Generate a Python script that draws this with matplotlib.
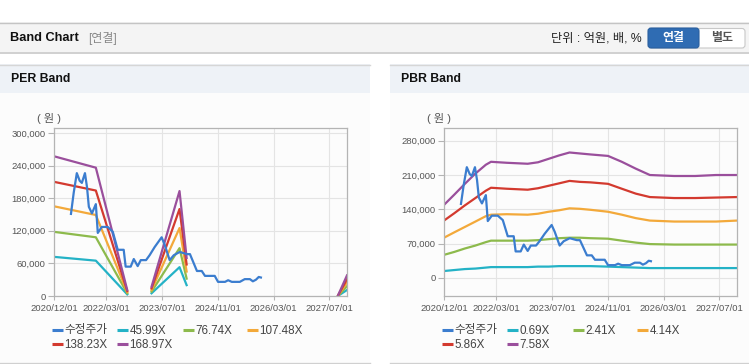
import matplotlib
matplotlib.use("Agg")
import matplotlib.pyplot as plt
import matplotlib.dates as mdates
from matplotlib.patches import Rectangle, FancyBboxPatch
from matplotlib.lines import Line2D
from matplotlib.ticker import FuncFormatter
import pandas as pd
import numpy as np

plt.rcParams['font.family'] = ['Liberation Sans', 'Noto Sans CJK KR']
plt.rcParams['axes.unicode_minus'] = False

W, H = 749, 364

# ---- data ----
price_dates = ["2021-04-28", "2021-05-22", "2021-06-18", "2021-07-13", "2021-08-01", "2021-08-28",
               "2021-09-15", "2021-10-01", "2021-10-28", "2021-12-01", "2021-12-18", "2022-01-22",
               "2022-03-15", "2022-04-28", "2022-06-10", "2022-08-01", "2022-08-18", "2022-10-01",
               "2022-10-28", "2022-12-01", "2022-12-28", "2023-02-12", "2023-03-15", "2023-04-28",
               "2023-06-28", "2023-07-25", "2023-09-06", "2023-10-12", "2023-12-03", "2024-02-03",
               "2024-03-01", "2024-05-01", "2024-06-12", "2024-07-10", "2024-10-03", "2024-11-01",
               "2025-01-01", "2025-01-28", "2025-03-01", "2025-05-10", "2025-06-22", "2025-08-06",
               "2025-09-01", "2025-09-28", "2025-10-22", "2025-11-10"]
price = [151000, 190000, 226000, 212000, 208000, 226000,
         200000, 164000, 152000, 169000, 116000, 127000,
         127000, 118000, 85000, 85000, 54000, 54000,
         68000, 55000, 66000, 66000, 75000, 90000,
         108000, 94000, 66000, 75000, 81000, 77000,
         77000, 46000, 46000, 37000, 37000, 26000,
         26000, 29000, 26000, 26000, 31000, 31000,
         27000, 30000, 35000, 34000]

per_dates = ["2020-12-01", "2021-12-01", "2022-09-01", None, "2023-04-01", "2023-12-01",
             "2024-02-01", None, "2027-09-15", "2027-12-01"]
per_labels = ["45.99X", "76.74X", "107.48X", "138.23X", "168.97X"]
per_4599 = [72000, 65000, 3000, None, 5000, 53000, 20000, None, 500, 11000]
per_7674 = [118000, 108000, 5000, None, 8000, 88000, 32000, None, 800, 18000]
per_10748 = [165000, 149000, 7000, None, 11000, 125000, 45000, None, 1100, 25000]
per_13823 = [210000, 194000, 9000, None, 14000, 160000, 58000, None, 1400, 31000]
per_16897 = [257000, 236000, 11000, None, 17000, 193000, 70000, None, 1700, 38000]

pbr_dates = ["2020-12-01", "2021-03-01", "2021-06-01", "2021-09-01", "2021-12-01", "2022-01-15",
             "2022-06-01", "2022-12-01", "2023-03-01", "2023-06-01", "2023-09-01", "2023-12-01",
             "2024-03-01", "2024-06-01", "2024-11-01", "2025-03-01", "2025-07-01", "2025-11-01",
             "2026-06-01", "2026-12-01", "2027-06-01", "2027-12-01"]
pbr_labels = ["0.69X", "2.41X", "4.14X", "5.86X", "7.58X"]
pbr_069 = [14000, 16000, 18000, 19000, 21000, 22000, 22000, 22000, 23000, 23000, 24000, 24000,
           24000, 24000, 23000, 22000, 21000, 20000, 20000, 20000, 20000, 20000]
pbr_241 = [47000, 53000, 60000, 66000, 73000, 76000, 76000, 76000, 77000, 79000, 81000, 82000,
           82000, 81000, 80000, 76000, 72000, 69000, 68000, 68000, 68000, 68000]
pbr_414 = [82000, 93000, 104000, 115000, 126000, 129000, 130000, 129000, 131000, 135000, 138000, 142000,
           141000, 139000, 135000, 129000, 122000, 117000, 115000, 115000, 115000, 117000]
pbr_586 = [117000, 132000, 148000, 163000, 178000, 184000, 182000, 180000, 183000, 188000, 193000, 198000,
           196000, 195000, 192000, 182000, 172000, 165000, 163000, 163000, 164000, 165000]
pbr_758 = [149000, 170000, 192000, 213000, 231000, 237000, 235000, 233000, 236000, 243000, 250000, 256000,
           254000, 252000, 249000, 237000, 223000, 210000, 208000, 208000, 210000, 210000]

x_ticks = ["2020-12-01", "2022-03-01", "2023-07-01", "2024-11-01", "2026-03-01", "2027-07-01"]
per_yticks = [0, 60000, 120000, 180000, 240000, 300000]
pbr_yticks = [0, 70000, 140000, 210000, 280000]

band_colors = ["#24b2c6", "#8dba4c", "#f3a93a", "#d33a2f", "#9a4f9c"]
price_color = "#3b7dcf"

fig = plt.figure(figsize=(W / 100, H / 100), dpi=100)
fig.patch.set_facecolor("white")

# background layer in pixel coords
bg = fig.add_axes([0, 0, 1, 1])
bg.set_xlim(0, W)
bg.set_ylim(H, 0)
bg.axis("off")

# header bar
bg.add_patch(Rectangle((0, 22), W, 30, facecolor="#f4f4f4", edgecolor="none"))
bg.add_line(Line2D([0, W], [22.5, 22.5], color="#c4c4c4", lw=1))
bg.add_line(Line2D([0, W], [52.5, 52.5], color="#c8c8c8", lw=1.2))
bg.text(10, 38, "Band Chart", fontsize=9.2, fontweight="bold", va="center", color="#111")
bg.text(88, 38.5, "[연결]", fontsize=8.6, va="center", color="#888")
bg.text(642, 38.5, "단위 : 억원, 배, %", fontsize=8.8, va="center", ha="right", color="#222")
bg.add_patch(FancyBboxPatch((649, 28.5), 96, 19.5, boxstyle="round,pad=0,rounding_size=3",
                            facecolor="white", edgecolor="#c8c8c8", lw=0.8))
bg.add_patch(FancyBboxPatch((648, 28), 51, 20, boxstyle="round,pad=0,rounding_size=3",
                            facecolor="#2f6cb3", edgecolor="#2a5f9e", lw=0.8))
bg.text(673.5, 38.5, "연결", fontsize=8.6, fontweight="bold", va="center", ha="center", color="white")
bg.text(722, 38.5, "별도", fontsize=8.6, fontweight="bold", va="center", ha="center", color="#555")

# panels
for x0, x1, title in [(0, 370, "PER Band"), (390, W, "PBR Band")]:
    bg.add_patch(Rectangle((x0, 64), x1 - x0, 298, facecolor="#fcfcfc", edgecolor="none"))
    bg.add_patch(Rectangle((x0, 64), x1 - x0, 29, facecolor="#eef2f7", edgecolor="none"))
    bg.add_line(Line2D([x0, x1], [64.5, 64.5], color="#d6d6d6", lw=1))
    bg.add_line(Line2D([x0, x1], [362.5, 362.5], color="#d0d0d0", lw=1))
    bg.text(x0 + 11, 79, title, fontsize=8.8, fontweight="bold", va="center", color="#111")


def px_axes(left, right, top, bottom):
    return fig.add_axes([left / W, 1 - bottom / H, (right - left) / W, (bottom - top) / H])


def fmt_thousands(v, pos):
    return f"{int(v):,}"


def style_axes(ax, yticks, ylim):
    ax.set_facecolor("#fcfcfc")
    ax.set_xlim(pd.Timestamp("2020-12-01"), pd.Timestamp("2027-12-01"))
    ax.set_ylim(*ylim)
    ax.set_xticks(pd.to_datetime(x_ticks))
    ax.xaxis.set_major_formatter(mdates.DateFormatter("%Y/%m/%d"))
    ax.set_yticks(yticks)
    ax.yaxis.set_major_formatter(FuncFormatter(fmt_thousands))
    ax.grid(True, color="#e4e4e4", lw=0.8)
    ax.set_axisbelow(True)
    for s in ax.spines.values():
        s.set_color("#b4b4b4")
        s.set_linewidth(0.9)
    ax.tick_params(axis="x", length=3, color="#b4b4b4", labelsize=6.8, labelcolor="#555", pad=3)
    ax.tick_params(axis="y", length=4, color="#b4b4b4", labelsize=6.8, labelcolor="#555", pad=2)


def to_series(dates, vals):
    d = [pd.Timestamp(x) if x else pd.NaT for x in dates]
    v = [np.nan if x is None else x for x in vals]
    return d, v


def draw_legend(x0, y_rows, labels):
    cols = [0, 65, 131, 195]
    items = [("수정주가", price_color)] + list(zip(labels, band_colors))
    for i, (lab, col) in enumerate(items):
        r, c = divmod(i, 4)
        x = x0 + cols[c]
        y = y_rows[r]
        bg.add_line(Line2D([x, x + 11], [y, y], color=col, lw=2.2, solid_capstyle="butt"))
        bg.text(x + 12.5, y + 0.5, lab, fontsize=8.4, va="center", color="#444")


# PER
ax1 = px_axes(54, 347, 128, 296)
style_axes(ax1, per_yticks, (0, 309000))
pd_dates = pd.to_datetime(price_dates)
per_sets = [per_4599, per_7674, per_10748, per_13823, per_16897]
for vals, col in zip(per_sets, band_colors):
    d, v = to_series(per_dates, vals)
    # split on None gaps
    segs_d, segs_v = [], []
    cur_d, cur_v = [], []
    for di, vi in zip(d, v):
        if pd.isna(di):
            segs_d.append(cur_d); segs_v.append(cur_v)
            cur_d, cur_v = [], []
        else:
            cur_d.append(di); cur_v.append(vi)
    segs_d.append(cur_d); segs_v.append(cur_v)
    for sd, sv in zip(segs_d, segs_v):
        ax1.plot(sd, sv, color=col, lw=1.6)
ax1.plot(pd_dates, price, color=price_color, lw=1.6)
bg.text(49, 118, "( 원 )", fontsize=8, ha="center", va="center", color="#555")
draw_legend(52, [330, 344], per_labels)

# PBR
ax2 = px_axes(444, 737, 128, 296)
style_axes(ax2, pbr_yticks, (-37000, 306000))
pb_dates = pd.to_datetime(pbr_dates)
for vals, col in zip([pbr_069, pbr_241, pbr_414, pbr_586, pbr_758], band_colors):
    ax2.plot(pb_dates, vals, color=col, lw=1.6)
ax2.plot(pd_dates, price, color=price_color, lw=1.6)
bg.text(439, 118, "( 원 )", fontsize=8, ha="center", va="center", color="#555")
draw_legend(442, [330, 344], pbr_labels)

fig.savefig("out.png", dpi=100)
